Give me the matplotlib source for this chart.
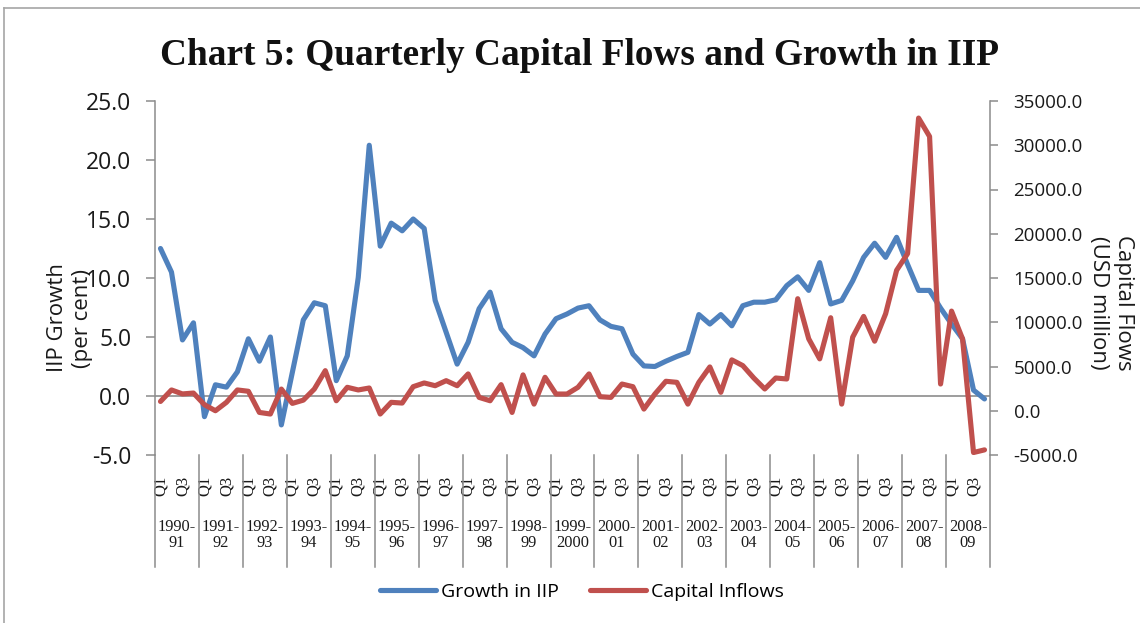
import matplotlib
matplotlib.use("Agg")
import matplotlib.pyplot as plt
import matplotlib.transforms as mtransforms
from matplotlib.lines import Line2D
from matplotlib.ticker import FormatStrFormatter, MultipleLocator

plt.rcParams["font.family"] = ["Open Sans", "DejaVu Sans"]

# --- data: quarterly, fiscal years 1990-91 .. 2008-09 ---------------------------

FISCAL_YEARS = [
    "1990-\n91", "1991-\n92", "1992-\n93", "1993-\n94", "1994-\n95",
    "1995-\n96", "1996-\n97", "1997-\n98", "1998-\n99", "1999-\n2000",
    "2000-\n01", "2001-\n02", "2002-\n03", "2003-\n04", "2004-\n05",
    "2005-\n06", "2006-\n07", "2007-\n08", "2008-\n09",
]
QUARTER_LABELS = ["Q1", "Q3"]

# growth in IIP, per cent
IIP_GROWTH = [
    12.5, 10.5, 4.75, 6.2, -1.75, 0.95, 0.75, 2.05,
    4.85, 2.95, 5.0, -2.45, 2.0, 6.45, 7.9, 7.65,
    1.3, 3.4, 10.05, 21.25, 12.7, 14.65, 14.0, 15.0,
    14.2, 8.1, 5.4, 2.7, 4.55, 7.4, 8.8, 5.7,
    4.55, 4.1, 3.4, 5.25, 6.55, 6.95, 7.45, 7.65,
    6.45, 5.9, 5.7, 3.55, 2.55, 2.5, 2.95, 3.35,
    3.7, 6.9, 6.1, 6.9, 5.95, 7.65, 7.95, 7.95,
    8.15, 9.35, 10.1, 8.95, 11.3, 7.8, 8.1, 9.75,
    11.75, 12.95, 11.75, 13.45, 11.15, 8.95, 8.95, 7.45,
    6.1, 4.85, 0.5, -0.25,
]

# capital inflows, USD million
CAPITAL_INFLOWS = [
    1050, 2350, 1900, 2000, 680, 0, 950, 2350,
    2200, -190, -370, 2450, 830, 1200, 2450, 4530,
    1130, 2650, 2350, 2570, -370, 950, 870, 2720,
    3140, 2830, 3400, 2830, 4160, 1510, 1130, 2950,
    -190, 4050, 750, 3780, 1890, 1890, 2650, 4160,
    1590, 1510, 3020, 2720, 190, 1890, 3330, 3210,
    750, 3210, 4950, 2080, 5750, 5100, 3700, 2460,
    3700, 3590, 12660, 8130, 5860, 10510, 750, 8310,
    10660, 7860, 10960, 15870, 17760, 33070, 30990, 3020,
    11260, 8130, -4720, -4420,
]

BLUE = "#4F81BD"
RED = "#C0504D"
GREY = "#8C8C8C"
TEXT = "#1a1a1a"
SERIF = "Liberation Serif"

W, H = 1140, 623

fig = plt.figure(figsize=(W / 100, H / 100), dpi=100)
ax = fig.add_axes([155 / W, 168 / H, 835 / W, 354 / H])

n = len(IIP_GROWTH)
x = [i + 0.5 for i in range(n)]

# left axis: IIP growth
ax.axhline(0, color=GREY, lw=1.2, zorder=1)
line_iip, = ax.plot(x, IIP_GROWTH, color=BLUE, lw=3.7,
                    solid_joinstyle="round", solid_capstyle="round",
                    label="Growth in IIP", zorder=3)
ax.set_ylim(-5, 25)
ax.yaxis.set_major_locator(MultipleLocator(5))
ax.yaxis.set_major_formatter(FormatStrFormatter("%.1f"))
ax.tick_params(axis="y", direction="out", length=6.5, width=1.1, color=GREY,
               pad=10.5, labelsize=16.5, labelcolor=TEXT)

for side in ("top", "bottom", "right"):
    ax.spines[side].set_visible(False)
ax.spines["left"].set_color(GREY)
ax.spines["left"].set_linewidth(1.1)

# quarter ticks (Q1, Q3 of every year)
tick_pos, tick_lab = [], []
for k in range(len(FISCAL_YEARS)):
    for q, lab in zip((0, 2), QUARTER_LABELS):
        tick_pos.append(k * 4 + q + 0.5)
        tick_lab.append(lab)
ax.set_xticks(tick_pos, tick_lab, rotation=90, fontfamily=SERIF, fontsize=12)
ax.tick_params(axis="x", length=0, pad=15, labelcolor=TEXT)

# year separators and year labels below the quarter labels
trans = mtransforms.blended_transform_factory(ax.transData, ax.transAxes)
for b in range(0, n + 1, 4):
    ax.add_line(Line2D([b, b], [0, -0.316], transform=trans, color=GREY,
                       lw=1.1, clip_on=False))
for k, yr in enumerate(FISCAL_YEARS):
    ax.text(k * 4 + 2, -0.226, yr, transform=trans, ha="center", va="center",
            fontfamily=SERIF, fontsize=11.8, linespacing=1.05, color=TEXT)

ax.set_xlim(0, n)

# right axis: capital inflows
ax2 = ax.twinx()
line_cap, = ax2.plot(x, CAPITAL_INFLOWS, color=RED, lw=3.7,
                     solid_joinstyle="round", solid_capstyle="round",
                     label="Capital Inflows")
ax2.set_ylim(-5000, 35000)
ax2.yaxis.set_major_locator(MultipleLocator(5000))
ax2.yaxis.set_major_formatter(FormatStrFormatter("%.1f"))
ax2.tick_params(axis="y", direction="out", length=6, width=1.1, color=GREY,
                pad=11, labelsize=13.5, labelcolor=TEXT)
for side in ("top", "bottom", "left"):
    ax2.spines[side].set_visible(False)
ax2.spines["right"].set_color(GREY)
ax2.spines["right"].set_linewidth(1.1)
ax2.set_xlim(0, n)

# axis titles
fig.text(70 / W, 1 - 318 / H, "IIP Growth\n(per cent)", rotation=90,
         ha="center", va="center", multialignment="center",
         fontsize=16, linespacing=1.25, color=TEXT)
fig.text(1111 / W, 1 - 303 / H, "Capital Flows\n(USD million)", rotation=270,
         ha="center", va="center", multialignment="center",
         fontsize=16, linespacing=1.25, color=TEXT)

fig.text(580 / W, 1 - 65 / H, "Chart 5: Quarterly Capital Flows and Growth in IIP",
         ha="center", va="baseline", fontfamily=SERIF, fontweight="bold",
         fontsize=26.8, color="#111111")

fig.legend(handles=[line_iip, line_cap], loc="center",
           bbox_to_anchor=(582 / W, 1 - 592 / H), ncol=2, frameon=False,
           fontsize=14, handlelength=2.9, handletextpad=0.25, columnspacing=1.6)

# frame around the chart
fig.add_artist(Line2D([4 / W, 4 / W], [0, 1 - 8 / H], transform=fig.transFigure,
                      color="#A6A6A6", lw=1.2))
fig.add_artist(Line2D([4 / W, 1], [1 - 8 / H, 1 - 8 / H], transform=fig.transFigure,
                      color="#A6A6A6", lw=1.2))

fig.savefig("out.png", dpi=100)
